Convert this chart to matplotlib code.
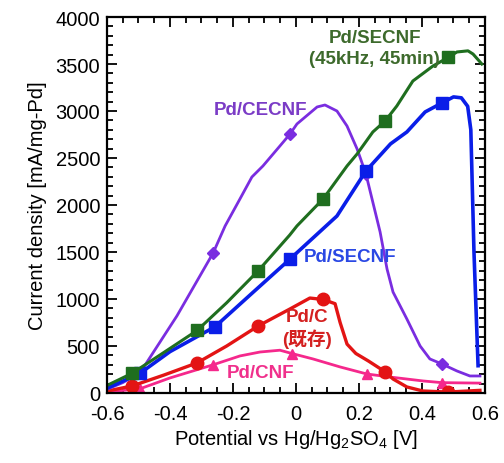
import matplotlib
matplotlib.use("Agg")
import matplotlib.pyplot as plt
from matplotlib.ticker import MultipleLocator

plt.rcParams["font.family"] = ["Liberation Sans", "Noto Sans CJK JP"]
plt.rcParams["mathtext.default"] = "regular"

# Pd/SECNF (45kHz, 45min) -- green
green_x = [-0.6, -0.52, -0.42, -0.314, -0.22, -0.12, -0.02, 0.003, 0.086, 0.162, 0.194, 0.244,
           0.283, 0.32, 0.371, 0.435, 0.483, 0.511, 0.546, 0.562, 0.59]
green_y = [80, 210, 430, 665, 960, 1300, 1680, 1777, 2064, 2415, 2543, 2777,
           2894, 3053, 3319, 3479, 3570, 3628, 3640, 3606, 3500]
green_mx = [-0.52, -0.314, -0.12, 0.086, 0.283, 0.483]
green_my = [210, 665, 1300, 2064, 2894, 3570]

# Pd/SECNF -- blue
blue_x = [-0.6, -0.495, -0.40, -0.257, -0.14, -0.019, 0.13, 0.222, 0.30, 0.352, 0.41,
          0.463, 0.50, 0.525, 0.545, 0.555, 0.565, 0.578]
blue_y = [50, 210, 440, 705, 1060, 1425, 1883, 2362, 2650, 2777, 2990,
          3085, 3150, 3140, 3050, 2800, 1500, 290]
blue_mx = [-0.495, -0.257, -0.019, 0.222, 0.463]
blue_my = [210, 705, 1425, 2362, 3085]

# Pd/CECNF -- purple
purple_x = [-0.6, -0.55, -0.495, -0.378, -0.263, -0.225, -0.178, -0.14, -0.105, -0.051, -0.019,
            0.003, 0.067, 0.092, 0.13, 0.162, 0.194, 0.222, 0.267, 0.289, 0.308, 0.352, 0.394,
            0.425, 0.463, 0.511, 0.552, 0.584]
purple_y = [40, 110, 215, 820, 1490, 1777, 2064, 2298, 2415, 2628, 2755,
            2862, 3043, 3064, 3000, 2840, 2596, 2330, 1713, 1319, 1074, 787, 500,
            362, 309, 234, 181, 181]
purple_mx = [-0.495, -0.263, -0.019, 0.222, 0.463]
purple_my = [215, 1490, 2755, 2330, 309]

# Pd/C (existing) -- red
red_x = [-0.6, -0.52, -0.42, -0.314, -0.22, -0.12, -0.019, 0.044, 0.086, 0.124, 0.14, 0.162,
         0.19, 0.23, 0.283, 0.308, 0.352, 0.403, 0.483, 0.584]
red_y = [20, 75, 190, 320, 500, 713, 894, 1010, 995, 950, 750, 520,
         420, 340, 225, 149, 64, 21, 10, 28]
red_mx = [-0.52, -0.314, -0.12, 0.086, 0.283, 0.483]
red_my = [75, 320, 713, 995, 225, 10]

# Pd/CNF -- pink
pink_x = [-0.6, -0.495, -0.40, -0.263, -0.178, -0.114, -0.051, -0.013, 0.054, 0.14, 0.225,
          0.298, 0.403, 0.463, 0.584]
pink_y = [10, 45, 160, 300, 394, 436, 455, 420, 362, 277, 202,
          170, 128, 110, 105]
pink_mx = [-0.495, -0.263, -0.013, 0.225, 0.463]
pink_my = [45, 300, 420, 202, 110]

fig = plt.figure(figsize=(5.04, 4.64), dpi=100)
ax = fig.add_axes([0.2123, 0.1509, 0.75, 0.8103])

series = [
    (pink_x, pink_y, pink_mx, pink_my, "#f5288c", "^", 7, 2.0),
    (red_x, red_y, red_mx, red_my, "#e31414", "o", 9, 2.4),
    (purple_x, purple_y, purple_mx, purple_my, "#7a2de0", "D", 6, 2.0),
    (blue_x, blue_y, blue_mx, blue_my, "#0a1ee8", "s", 9, 2.6),
    (green_x, green_y, green_mx, green_my, "#1f6e1f", "s", 9, 2.2),
]
for x, y, mx, my, color, marker, ms, lw in series:
    ax.plot(x, y, color=color, linewidth=lw, solid_joinstyle="round")
    ax.plot(mx, my, linestyle="none", marker=marker, markersize=ms, color=color)

ax.set_xlim(-0.6, 0.6)
ax.set_ylim(0, 4000)
ax.xaxis.set_major_locator(MultipleLocator(0.2))
ax.xaxis.set_minor_locator(MultipleLocator(0.05))
ax.yaxis.set_major_locator(MultipleLocator(500))
ax.yaxis.set_minor_locator(MultipleLocator(100))
ax.set_xticks([-0.6, -0.4, -0.2, 0, 0.2, 0.4, 0.6], ["-0.6", "-0.4", "-0.2", "0", "0.2", "0.4", "0.6"])
ax.tick_params(which="both", direction="in", top=True, right=True, width=1.3, labelsize=14.5)
ax.tick_params(which="major", length=7)
ax.tick_params(which="minor", length=4)
ax.tick_params(axis="x", pad=8)
ax.tick_params(axis="y", pad=5)
for spine in ax.spines.values():
    spine.set_linewidth(1.6)

ax.set_xlabel(r"Potential vs Hg/Hg$_2$SO$_4$ [V]", fontsize=14.5, labelpad=3)
ax.set_ylabel("Current density [mA/mg-Pd]", fontsize=14.5, labelpad=6)

ax.text(0.25, 3670, "Pd/SECNF\n(45kHz, 45min)", color="#3d6a2c", fontsize=13.5,
        fontweight="bold", ha="center", va="center", linespacing=1.3)
ax.text(-0.114, 3021, "Pd/CECNF", color="#7b3cc6", fontsize=13.5, fontweight="bold",
        ha="center", va="center")
ax.text(0.171, 1457, "Pd/SECNF", color="#2a48e4", fontsize=13.5, fontweight="bold",
        ha="center", va="center")
ax.text(0.035, 691, "Pd/C\n(既存)", color="#d42020", fontsize=13.5, fontweight="bold",
        ha="center", va="center", linespacing=1.25)
ax.text(-0.114, 213, "Pd/CNF", color="#f0308c", fontsize=13.5, fontweight="bold",
        ha="center", va="center")

fig.savefig("out.png", dpi=100)
